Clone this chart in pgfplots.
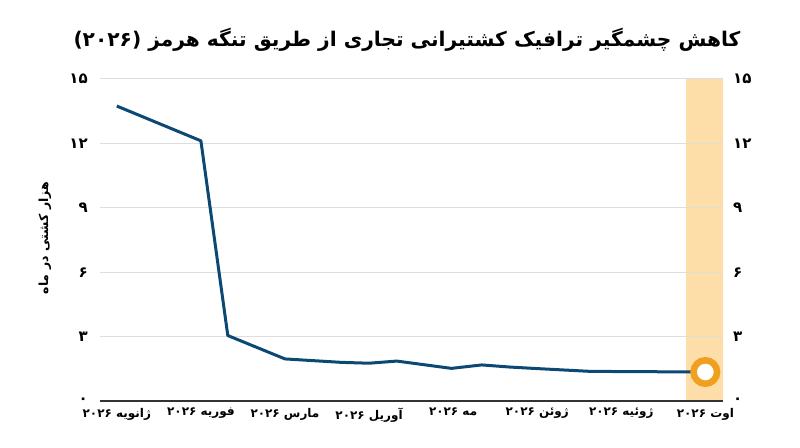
\documentclass[border=0pt]{standalone}
\usepackage{pgfplots}
\pgfplotsset{compat=1.18}
\usepackage{fontspec}
\setmainfont{DejaVu Sans}
\newfontfamily\fa[Script=Arabic]{DejaVu Sans}
\TeXXeTstate=1
\definecolor{navy}{RGB}{12,72,116}
\definecolor{orng}{RGB}{240,160,30}
\definecolor{bandc}{RGB}{253,221,168}
\definecolor{gridc}{RGB}{222,222,222}
\begin{document}
\begin{tikzpicture}
\begin{axis}[
  at={(100pt,46pt)}, anchor=south west,
  scale only axis, width=623pt, height=322pt,
  xmin=-0.2, xmax=7.21, ymin=0, ymax=15,
  set layers,
  axis x line*=bottom, axis y line*=left,
  x axis line style={draw=black!80, line width=1pt, -},
  y axis line style={draw=none},
  major tick length=0pt,
  ytick={0,3,6,9,12,15}, yticklabels={۰,۳,۶,۹,۱۲,۱۵},
  ymajorgrids, grid style={gridc, line width=1pt},
  xtick={0,...,7},
  xticklabels={{\beginR ژانویه \beginL۲۰۲۶\endL\endR},{\beginR فوریه \beginL۲۰۲۶\endL\endR},{\beginR مارس \beginL۲۰۲۶\endL\endR},{\beginR آوریل \beginL۲۰۲۶\endL\endR},{\beginR مه \beginL۲۰۲۶\endL\endR},{\beginR ژوئن \beginL۲۰۲۶\endL\endR},{\beginR ژوئیه \beginL۲۰۲۶\endL\endR},{\beginR اوت \beginL۲۰۲۶\endL\endR}},
  yticklabel style={font=\fa\bfseries\fontsize{15}{15}\selectfont, anchor=east, inner sep=0pt, xshift=-12pt},
  xticklabel style={font=\fa\bfseries\fontsize{12}{12}\selectfont, anchor=north, inner sep=0pt, yshift=-7pt},
]
\addplot[fill=bandc, draw=none, on layer=axis background] coordinates {(6.77,0) (6.77,15) (7.21,15) (7.21,0)} \closedcycle;
\addplot[navy, line width=3pt, line join=round, no marks] coordinates {
(0,13.74) (1,12.12) (1.32,3.05) (2,1.96) (2.67,1.80) (3.0,1.76) (3.33,1.86)
(3.98,1.52) (4.34,1.68) (4.68,1.58) (5.0,1.51) (5.63,1.38) (7,1.35)};
\addplot[only marks, mark=*, mark size=11.75pt, mark options={draw=orng, fill=white, line width=6.5pt}] coordinates {(7,1.35)};
\end{axis}
\begin{axis}[
  at={(100pt,46pt)}, anchor=south west,
  scale only axis, width=623pt, height=322pt,
  xmin=-0.2, xmax=7.21, ymin=0, ymax=15,
  hide x axis, axis y line*=right,
  y axis line style={draw=none},
  major tick length=0pt,
  ytick={0,3,6,9,12,15}, yticklabels={۰,۳,۶,۹,۱۲,۱۵},
  yticklabel style={font=\fa\bfseries\fontsize{15}{15}\selectfont, anchor=west, inner sep=0pt, xshift=10pt},
]
\addplot[draw=none] coordinates {(0,0)};
\end{axis}
\node[font=\fa\bfseries\fontsize{20.2}{20.2}\selectfont] at (407pt,407pt) {\beginR کاهش چشمگیر ترافیک کشتیرانی تجاری از طریق تنگه هرمز \beginL(۲۰۲۶)\endL\endR};
\node[font=\fa\bfseries\fontsize{12.5}{12.5}\selectfont, rotate=90] at (45pt,209pt) {\beginR هزار کشتی در ماه\endR};
\pgfresetboundingbox
\useasboundingbox (0pt,0pt) rectangle (800pt,447pt);
\end{tikzpicture}
\end{document}
